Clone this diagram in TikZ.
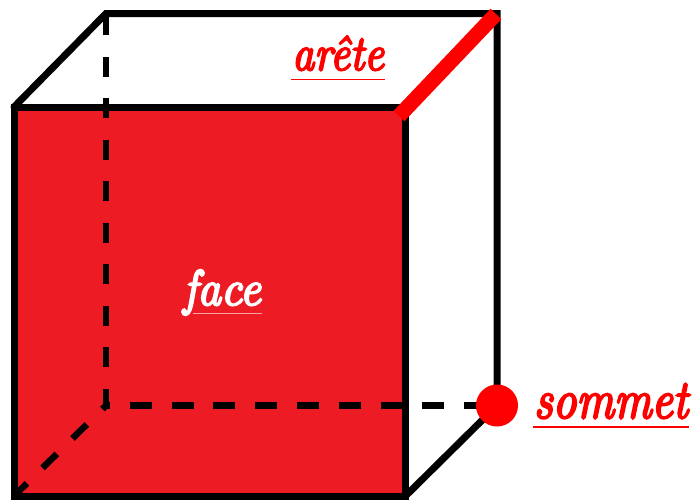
\documentclass[tikz,border=0pt]{standalone}
\usepackage{fontspec}
\newfontfamily\handfont[ItalicFeatures={FakeBold=4}]{Latin Modern Roman}
\definecolor{facered}{HTML}{ED1C24}
\definecolor{purered}{HTML}{FF0000}
\tikzset{
  solidedge/.style={draw=black,line width=7pt,line cap=round,line join=miter},
  hiddenedge/.style={draw=black,line width=6.5pt},
  redge/.style={draw=purered,line width=15pt},
  word/.style={font=\handfont\itshape,inner sep=0pt,anchor=base},
  rule/.style={line width=1.3pt}
}
\begin{document}
\begin{tikzpicture}[x=1pt,y=-1pt]
\useasboundingbox (0,0) rectangle (694,499);
% vertices
\coordinate (A) at (14,107);
\coordinate (B) at (405.5,107);
\coordinate (C) at (405.5,496);
\coordinate (D) at (14,496);
\coordinate (E) at (106,13.5);
\coordinate (F) at (497,13.5);
\coordinate (G) at (497,405.5);
\coordinate (H) at (106,405.5);
\coordinate (R1) at (399,116);
\coordinate (R2) at (496,14);
% front face
\fill[facered] (A) rectangle (C);
% hidden edges
\draw[hiddenedge,dash pattern=on 20pt off 21.5pt,dash phase=3pt] (H) -- (E);
\draw[hiddenedge,dash pattern=on 22pt off 19.8pt,dash phase=18pt] (H) -- (G);
\draw[hiddenedge,dash pattern=on 20pt off 22pt,dash phase=15pt] (H) -- (D);
% solid edges
\draw[solidedge] (A) -- (B) -- (C) -- (D) -- cycle;
\draw[solidedge] (A) -- (E) -- (F) -- (G) -- (C);
% highlighted edge and vertex
\draw[redge] (R1) -- (R2);
\node[circle,fill=purered,minimum size=42pt,inner sep=0pt] (som) at (G) {};
% labels
\node[word,text=purered,xscale=4.3,yscale=5] (arete) at (338,70) {arête};
\draw[rule,purered] ([yshift=-9.5pt]arete.base west) -- ([yshift=-9.5pt]arete.base east);
\node[word,text=white,xscale=4.6,yscale=5] (fac) at (222,305) {face};
\draw[rule,white!60!facered] ([xshift=11pt,yshift=-8.5pt]fac.base west) -- ([yshift=-8.5pt]fac.base east);
\node[word,text=purered,xscale=4.6,yscale=5.5] (sommet) at (611,418) {sommet};
\draw[rule,purered] ([yshift=-9pt]sommet.base west) -- ([yshift=-9pt]sommet.base east);
\end{tikzpicture}
\end{document}
